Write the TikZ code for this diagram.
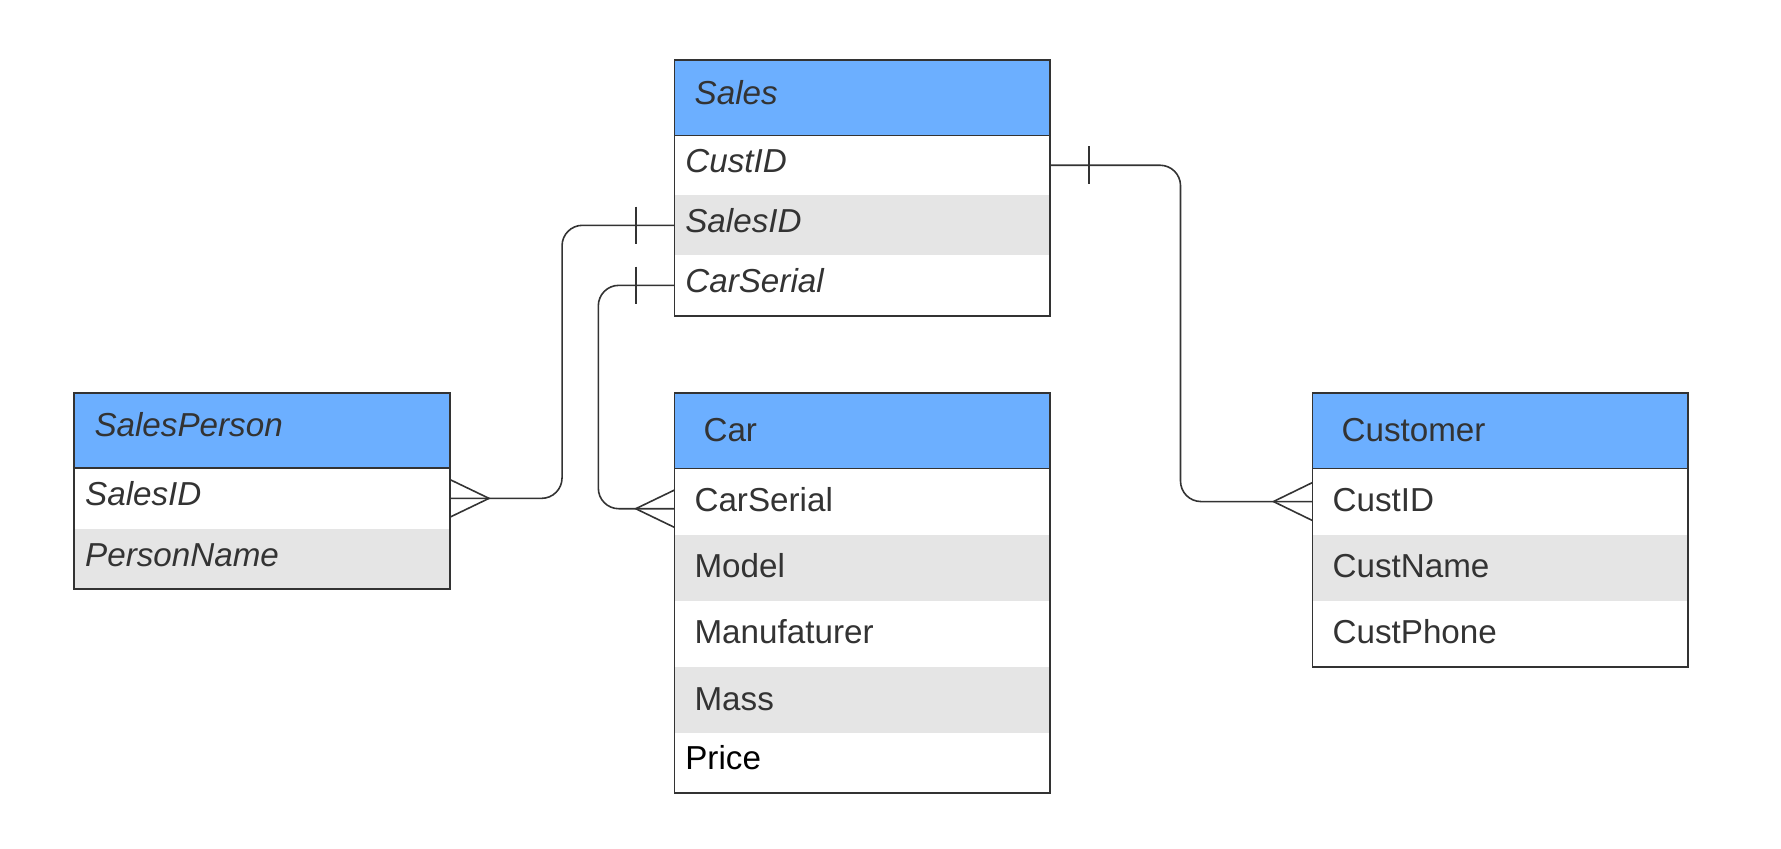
\documentclass[tikz,border=0pt]{standalone}
\usepackage{fontspec}
\setmainfont{Liberation Sans}
\definecolor{hdrblue}{RGB}{108,175,255}
\definecolor{rowgray}{RGB}{229,229,229}
\definecolor{txtcol}{RGB}{51,51,51}
\definecolor{linecol}{RGB}{51,51,51}
\newcommand\cellfont{\fontsize{29.2pt}{35pt}\selectfont}
\tikzset{
  cell/.style={rectangle, anchor=north west, inner ysep=0pt, font=\cellfont, text=txtcol, align=left},
  hdrA/.style={cell, fill=hdrblue, inner xsep=17.6pt, text width=294.8pt, text height=38.6pt, text depth=27.3pt},
  rowA/.style={cell, inner xsep=9.4pt, text width=311.2pt, text height=32.8pt, text depth=20pt},
  hdrB/.style={cell, fill=hdrblue, inner xsep=25.4pt, text width=279.2pt, text height=42.5pt, text depth=23.7pt},
  rowB/.style={cell, inner xsep=17.5pt, text width=295pt, text height=37.6pt, text depth=20.2pt},
  lastrow/.style={cell, inner xsep=9.4pt, text width=311.2pt, text height=32pt, text depth=20.5pt, text=black},
  gray/.style={fill=rowgray},
  tbl/.style={draw=linecol, line width=1.6pt},
  conn/.style={draw=linecol, line width=1.4pt, rounded corners=18pt},
  foot/.style={draw=linecol, line width=1.4pt},
  bar/.style={draw=linecol, line width=1.7pt}
}
\begin{document}
\begin{tikzpicture}[x=1pt,y=-1pt]
\fill[white] (0,0) rectangle (1566,746.5);
\useasboundingbox (0,0) rectangle (1566,746.5);

% Sales
\node[hdrA] (sH) at (593,52.8) {\itshape Sales};
\node[rowA] (sCust) at (593,118.7) {\itshape CustID};
\node[rowA, gray] (sSid) at (593,171.5) {\itshape SalesID};
\node[rowA] (sCar) at (593,224.3) {\itshape CarSerial};
\draw[tbl] (sH.north west) rectangle (sCar.south east);
\draw[tbl] (sH.south west) -- (sH.south east);

% SalesPerson
\node[hdrA] (pH) at (65.3,345.3) {\itshape SalesPerson};
\node[rowA] (pSid) at (pH.south west) {\itshape SalesID};
\node[rowA, gray] (pName) at (pSid.south west) {\itshape PersonName};
\draw[tbl] (pH.north west) rectangle (pName.south east);
\draw[tbl] (pH.south west) -- (pH.south east);

% Car
\node[hdrB] (cH) at (593,345.3) {Car};
\node[rowB] (cSer) at (cH.south west) {CarSerial};
\node[rowB, gray] (cMod) at (cSer.south west) {Model};
\node[rowB] (cMan) at (cMod.south west) {Manufaturer};
\node[rowB, gray] (cMass) at (cMan.south west) {Mass};
\node[lastrow] (cPrice) at (cMass.south west) {Price};
\draw[tbl] (cH.north west) rectangle (cPrice.south east);
\draw[tbl] (cH.south west) -- (cH.south east);

% Customer
\node[hdrB] (uH) at (1154,345.3) {Customer};
\node[rowB] (uCust) at (uH.south west) {CustID};
\node[rowB, gray] (uName) at (uCust.south west) {CustName};
\node[rowB] (uPhone) at (uName.south west) {CustPhone};
\draw[tbl] (uH.north west) rectangle (uPhone.south east);
\draw[tbl] (uH.south west) -- (uH.south east);

% connector x positions
\coordinate (k1) at (1038,0);
\coordinate (k2) at (494.2,0);
\coordinate (k3) at (526.1,0);
\coordinate (cSerC) at ([yshift=-6.3pt]cSer.west);

% Sales.CustID -> Customer.CustID
\draw[conn] (sCust.east) -| (k1 |- uCust.west) -- (uCust.west);
\draw[bar] ([xshift=34.4pt,yshift=16.5pt]sCust.east) -- ([xshift=34.4pt,yshift=-16.5pt]sCust.east);
\draw[foot] ([yshift=16.7pt]uCust.west) -- ([xshift=-34.3pt]uCust.west) -- ([yshift=-16.7pt]uCust.west);

% Sales.SalesID -> SalesPerson.SalesID
\draw[conn] (sSid.west) -| (k2 |- pSid.east) -- (pSid.east);
\draw[bar] ([xshift=-34pt,yshift=16.5pt]sSid.west) -- ([xshift=-34pt,yshift=-16.5pt]sSid.west);
\draw[foot] ([yshift=16.5pt]pSid.east) -- ([xshift=34.3pt]pSid.east) -- ([yshift=-16.5pt]pSid.east);

% Sales.CarSerial -> Car.CarSerial
\draw[conn] (sCar.west) -| (k3 |- cSerC) -- (cSerC);
\draw[bar] ([xshift=-34pt,yshift=16.5pt]sCar.west) -- ([xshift=-34pt,yshift=-16.5pt]sCar.west);
\draw[foot] ([yshift=16.4pt]cSerC) -- ([xshift=-34pt]cSerC) -- ([yshift=-16.4pt]cSerC);
\end{tikzpicture}
\end{document}
